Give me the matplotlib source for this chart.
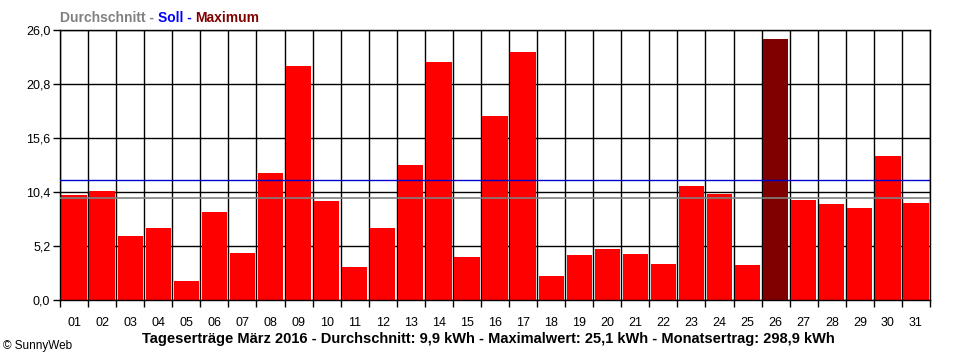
import numpy as np
import matplotlib.pyplot as plt

plt.rcParams['font.family'] = ['Liberation Sans', 'DejaVu Sans']

# Daily yields in kWh, March 2016
days = ['01', '02', '03', '04', '05', '06', '07', '08', '09', '10',
        '11', '12', '13', '14', '15', '16', '17', '18', '19', '20',
        '21', '22', '23', '24', '25', '26', '27', '28', '29', '30', '31']
yields = [10.1, 10.5, 6.2, 6.9, 1.8, 8.5, 4.5, 12.2, 22.5, 9.5,
          3.2, 6.9, 13.0, 22.9, 4.1, 17.7, 23.9, 2.3, 4.3, 4.9,
          4.4, 3.5, 11.0, 10.2, 3.4, 25.1, 9.6, 9.2, 8.9, 13.9, 9.3]
average = 9.8
target = 11.6
yticks = [0.0, 5.2, 10.4, 15.6, 20.8, 26.0]

fig = plt.figure(figsize=(9.6, 3.6), dpi=100)
ax = fig.add_axes([60 / 960, 60 / 360, 870 / 960, 270 / 360])

x = np.arange(len(days))
imax = int(np.argmax(yields))
colors = ['#ff0000'] * len(days)
colors[imax] = '#800000'

# grid behind the bars
for yt in yticks:
    ax.axhline(yt, color='black', lw=1, zorder=1)
for b in range(len(days) + 1):
    ax.axvline(b - 0.5, color='black', lw=1, zorder=1)

ax.bar(x, yields, width=0.9, color=colors, zorder=2)

# average and target lines on top of the bars
ax.axhline(target, color='#0000cc', lw=1, zorder=3)
ax.axhline(average, color='#808080', lw=1.2, zorder=3)

ax.set_xlim(-0.5, len(days) - 0.5)
ax.set_ylim(0, 26)
ax.set_yticks(yticks)
ax.set_yticklabels([f'{v:.1f}'.replace('.', ',') for v in yticks], fontsize=9)
ax.set_xticks(np.arange(len(days) + 1) - 0.5)
ax.set_xticklabels([])
ax.set_xticks(x, minor=True)
ax.set_xticklabels(days, minor=True, fontsize=9)
ax.tick_params(axis='x', which='minor', length=0, pad=12)
ax.tick_params(axis='x', which='major', length=5, width=1, direction='out')
ax.tick_params(axis='y', length=5, width=1, direction='out', pad=2)
for s in ax.spines.values():
    s.set_linewidth(1)

# header in three colours
fig.canvas.draw()
r = fig.canvas.get_renderer()
xpos = 60 / 960
for txt, col in [('Durchschnitt - ', '#808080'), ('Soll - ', '#0000ff'),
                 ('Maximum', '#800000')]:
    t = fig.text(xpos, 1 - 18 / 360, txt, color=col, fontsize=10, fontweight='bold',
                 va='center', ha='left')
    bb = t.get_window_extent(renderer=r)
    xpos += bb.width / fig.bbox.width

fig.text(488 / 960, 1 - 339 / 360,
         'Tageserträge März 2016 - Durchschnitt: 9,9 kWh - Maximalwert: 25,1 kWh - Monatsertrag: 298,9 kWh',
         ha='center', va='center', fontsize=10.5, fontweight='bold')
fig.text(3 / 960, 1 - 346 / 360, '© SunnyWeb', ha='left', va='center', fontsize=8.5)

fig.savefig('out.png', dpi=100)
